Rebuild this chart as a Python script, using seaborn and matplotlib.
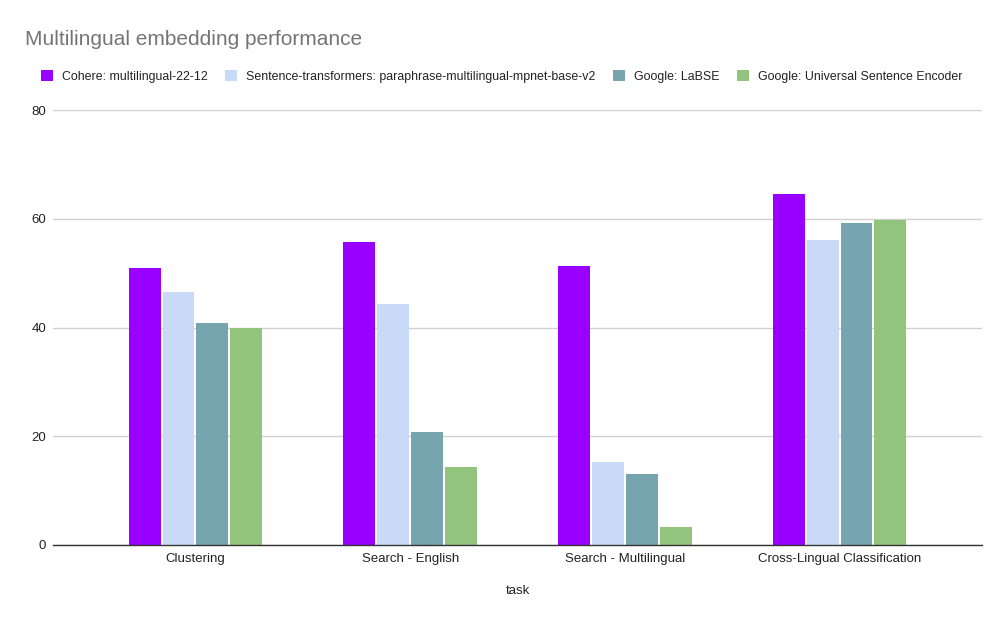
import pandas as pd
import seaborn as sns
import matplotlib.pyplot as plt

# data
tasks = ["Clustering", "Search - English", "Search - Multilingual", "Cross-Lingual Classification"]
models = [
    "Cohere: multilingual-22-12",
    "Sentence-transformers: paraphrase-multilingual-mpnet-base-v2",
    "Google: LaBSE",
    "Google: Universal Sentence Encoder",
]
cohere = [50.9, 55.7, 51.3, 64.6]
sentence_tf = [46.6, 44.4, 15.2, 56.1]
labse = [40.9, 20.8, 13.1, 59.2]
use = [40.0, 14.3, 3.3, 59.7]
colors = ["#9900ff", "#c9daf8", "#76a5af", "#93c47d"]

rows = []
for model, vals in zip(models, [cohere, sentence_tf, labse, use]):
    for t, v in zip(tasks, vals):
        rows.append({"task": t, "model": model, "score": v})
df = pd.DataFrame(rows)

sns.set_style("white")
plt.rcParams['font.family'] = ['Liberation Sans', 'DejaVu Sans']

fig = plt.figure(figsize=(10, 6.17), dpi=100)
ax = fig.add_axes([0.053, 0.1167, 0.929, 0.705])

sns.barplot(df, x="task", y="score", hue="model", palette=colors,
            width=0.63, gap=0.06, saturation=1, linewidth=0, ax=ax)

ax.set_ylim(0, 80)
ax.set_xlim(-0.663, 3.663)
ax.set_yticks([0, 20, 40, 60, 80])
ax.yaxis.grid(True, color="#d0d0d0", linewidth=1)
ax.set_axisbelow(True)
for s in ["top", "right", "left"]:
    ax.spines[s].set_visible(False)
ax.spines["bottom"].set_color("#333333")
ax.spines["bottom"].set_linewidth(1)
ax.tick_params(axis="both", length=0, labelsize=9.5, colors="#222222")
ax.tick_params(axis="x", pad=6)
ax.tick_params(axis="y", pad=5)
ax.set_ylabel("")
ax.set_xlabel("task", fontsize=9.5, color="#222222", labelpad=14)

sns.move_legend(ax, "upper left", bbox_to_anchor=(0.041, 0.886), bbox_transform=fig.transFigure,
                ncol=4, frameon=False, title=None, fontsize=8.9,
                borderpad=0, borderaxespad=0,
                handlelength=0.97, handleheight=0.97, handletextpad=0.7, columnspacing=1.45)
for t in ax.get_legend().get_texts():
    t.set_color("#222222")

fig.text(0.025, 0.936, "Multilingual embedding performance", fontsize=15, color="#757575",
         va="center", ha="left")

plt.savefig("out.png", dpi=100)
